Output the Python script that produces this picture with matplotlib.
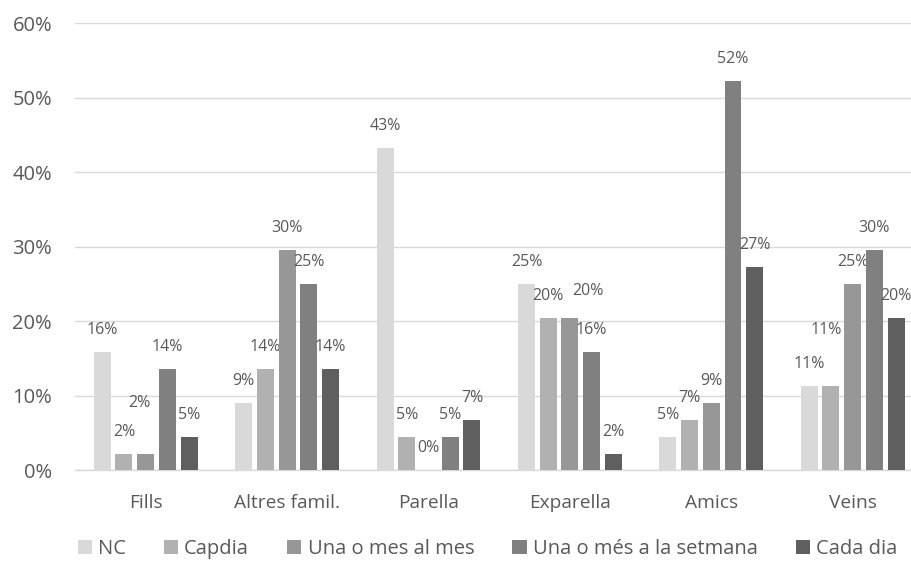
import matplotlib.pyplot as plt
import numpy as np

plt.rcParams['font.family'] = ['Open Sans', 'DejaVu Sans']

categories = ['Fills', 'Altres famil.', 'Parella', 'Exparella', 'Amics', 'Veins']
series = ['NC', 'Capdia', 'Una o mes al mes', 'Una o més a la setmana', 'Cada dia']
values = [
    [15.91, 9.09, 43.18, 25.00, 4.55, 11.36],    # NC
    [2.27, 13.64, 4.55, 20.45, 6.82, 11.36],     # Capdia
    [2.27, 29.55, 0.00, 20.45, 9.09, 25.00],     # Una o mes al mes
    [13.64, 25.00, 4.55, 15.91, 52.27, 29.55],   # Una o més a la setmana
    [4.55, 13.64, 6.82, 2.27, 27.27, 20.45],     # Cada dia
]
colors = ['#d9d9d9', '#b1b1b1', '#979797', '#808080', '#5f5f5f']
txt = '#595959'

# labels that were moved by hand in the original (series, category): (dx, dy) in px
nudge = {(2, 0): (-6.7, 29), (2, 3): (18, 5), (1, 5): (-5, 34)}

fig = plt.figure(figsize=(9.11, 5.63), dpi=100)
ax = fig.add_axes([0.0823, 0.1643, 0.9313, 0.7948])

px = 72 / fig.dpi
x = np.arange(len(categories))
step = 0.1535
width = 0.12
for i, (name, vals) in enumerate(zip(series, values)):
    pos = x + (i - 2) * step
    bars = ax.bar(pos, vals, width, color=colors[i], label=name, zorder=3)
    for j, (b, v) in enumerate(zip(bars, vals)):
        dx, dy = nudge.get((i, j), (0, 0))
        ax.annotate(f'{int(np.floor(v + 0.5))}%', (b.get_x() + b.get_width() / 2, v),
                    xytext=(dx * px, (22 + dy) * px), textcoords='offset points',
                    ha='center', va='center', fontsize=11.5, color=txt)

ax.set_xlim(-0.5, len(categories) - 0.5)
ax.set_ylim(0, 60)
ax.set_yticks(range(0, 61, 10))
ax.set_yticklabels([f'{t}%' for t in range(0, 61, 10)])
ax.set_xticks(x)
ax.set_xticklabels(categories)
ax.tick_params(axis='both', length=0, colors=txt)
ax.tick_params(axis='x', labelsize=13.8, pad=17)
ax.tick_params(axis='y', labelsize=14.5, pad=16.5)
ax.yaxis.grid(True, color='#d9d9d9', linewidth=1.0, zorder=0)
for s in ['top', 'right', 'left']:
    ax.spines[s].set_visible(False)
ax.spines['bottom'].set_color('#d9d9d9')
ax.spines['bottom'].set_linewidth(1.0)

leg = fig.legend(loc='center', bbox_to_anchor=(0.535, 0.024), ncol=5,
                 frameon=False, fontsize=14.5, handlelength=0.7, handleheight=0.7,
                 handletextpad=0.3, columnspacing=1.9, borderpad=0)
for t in leg.get_texts():
    t.set_color(txt)

fig.savefig('out.png', dpi=100)
